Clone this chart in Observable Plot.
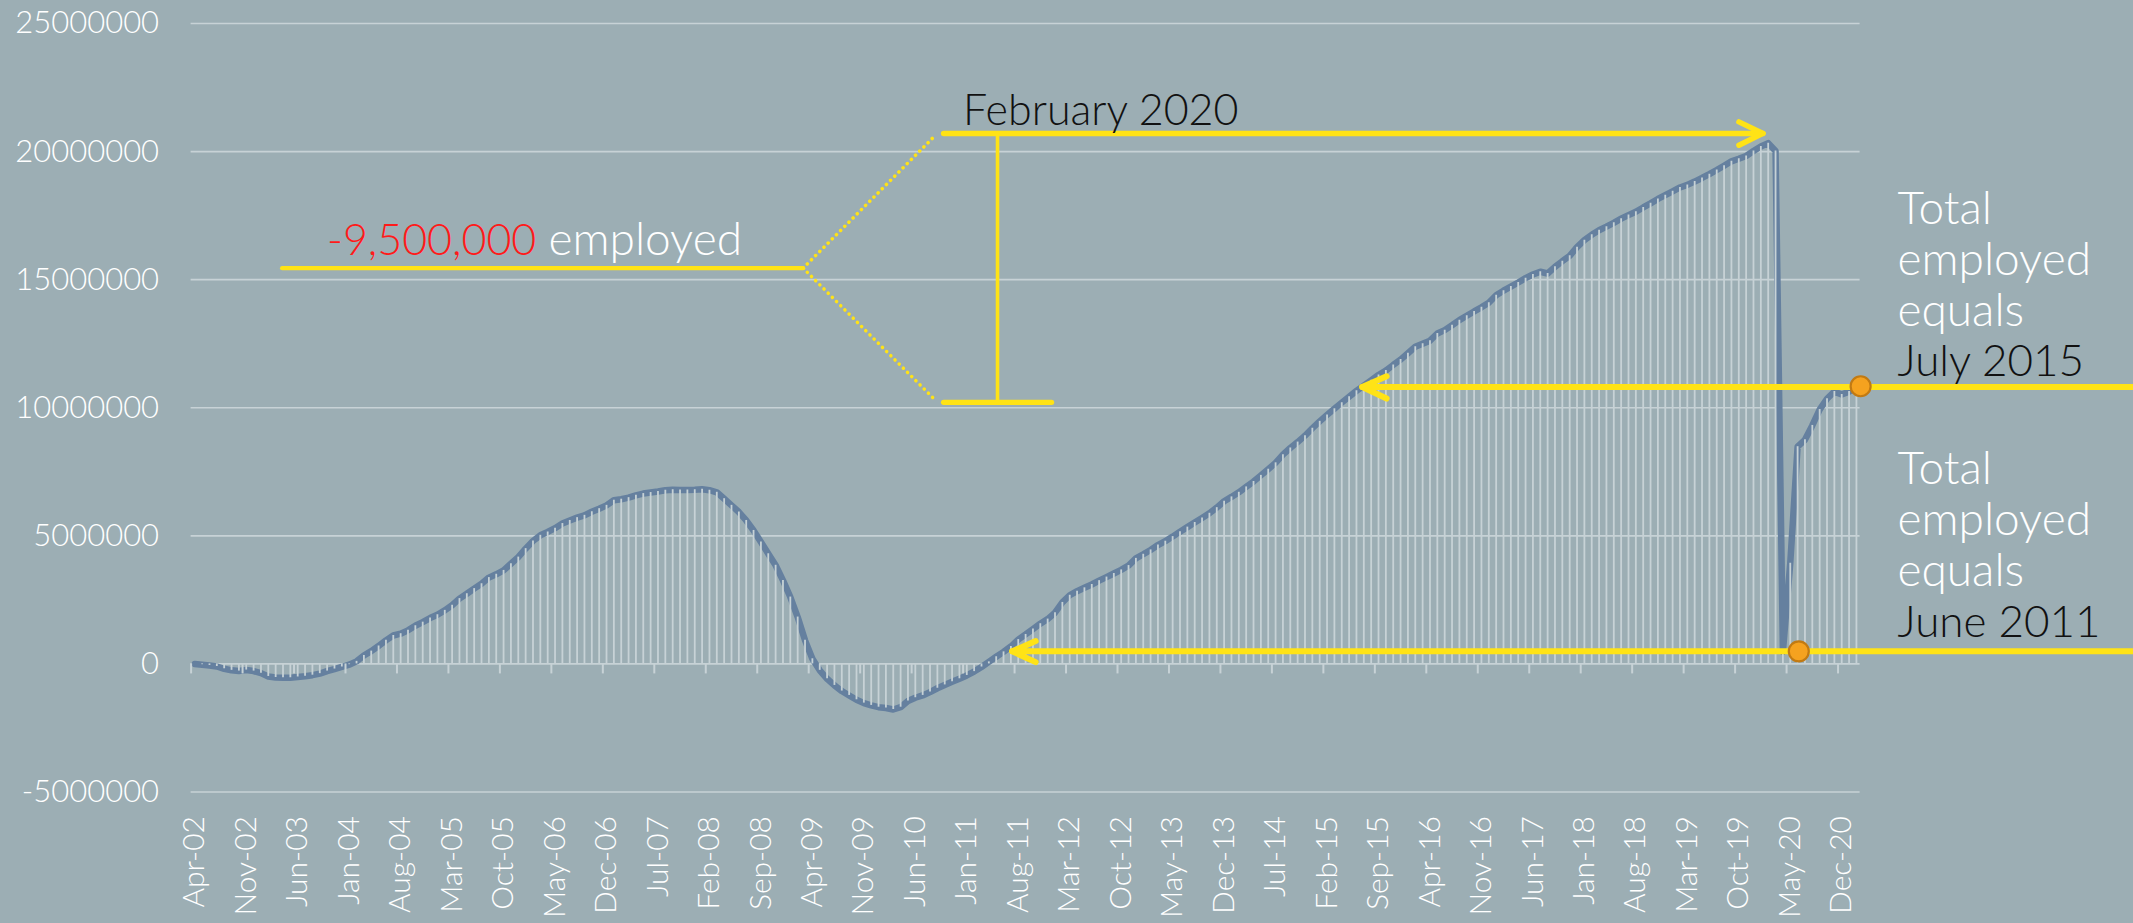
<!DOCTYPE html>
<html>
<head>
<meta charset="utf-8">
<script src="https://cdn.jsdelivr.net/npm/d3@7"></script>
<script src="https://cdn.jsdelivr.net/npm/@observablehq/plot@0.6"></script>
<style>
  html, body { margin: 0; padding: 0; background: #9caeb4; }
  #chart svg { display: block; }
</style>
</head>
<body>
<div id="chart"></div>
<script>
// Monthly categories start at Apr-02 and run to Feb-21 (227 months)
const tickLabels = ["Apr-02","Nov-02","Jun-03","Jan-04","Aug-04","Mar-05","Oct-05","May-06","Dec-06","Jul-07",
  "Feb-08","Sep-08","Apr-09","Nov-09","Jun-10","Jan-11","Aug-11","Mar-12","Oct-12","May-13","Dec-13",
  "Jul-14","Feb-15","Sep-15","Apr-16","Nov-16","Jun-17","Jan-18","Aug-18","Mar-19","Oct-19","May-20","Dec-20"];
const labelEvery = 7;

// Change in total employed since Apr-02, millions
const employedChange = [
  0.00,-0.03,-0.06,-0.10,-0.19,-0.25,-0.28,-0.24,-0.28,-0.36,
  -0.49,-0.53,-0.54,-0.54,-0.51,-0.48,-0.44,-0.38,-0.28,-0.20,
  -0.12,-0.03,0.10,0.33,0.50,0.70,0.92,1.11,1.18,1.31,
  1.49,1.63,1.79,1.92,2.09,2.29,2.55,2.74,2.94,3.13,
  3.37,3.50,3.65,3.91,4.17,4.50,4.80,5.02,5.15,5.30,
  5.48,5.60,5.71,5.80,5.94,6.06,6.19,6.39,6.43,6.49,
  6.58,6.65,6.69,6.73,6.78,6.80,6.79,6.79,6.80,6.82,
  6.78,6.70,6.45,6.19,5.93,5.60,5.21,4.76,4.30,3.85,
  3.26,2.61,1.83,0.92,0.20,-0.25,-0.58,-0.84,-1.06,-1.23,
  -1.40,-1.53,-1.62,-1.69,-1.72,-1.78,-1.69,-1.45,-1.32,-1.23,
  -1.10,-0.95,-0.82,-0.70,-0.58,-0.45,-0.30,-0.12,0.08,0.28,
  0.47,0.68,0.95,1.15,1.36,1.57,1.75,2.00,2.40,2.68,
  2.84,2.97,3.10,3.25,3.39,3.53,3.67,3.84,4.12,4.28,
  4.45,4.64,4.79,4.97,5.16,5.34,5.52,5.70,5.88,6.10,
  6.35,6.52,6.70,6.91,7.12,7.36,7.60,7.85,8.17,8.43,
  8.66,8.91,9.20,9.47,9.72,9.96,10.20,10.43,10.66,10.86,
  11.07,11.28,11.45,11.67,11.88,12.13,12.38,12.50,12.62,12.90,
  13.03,13.22,13.42,13.59,13.76,13.92,14.10,14.39,14.57,14.73,
  14.89,15.06,15.20,15.31,15.24,15.50,15.72,15.93,16.27,16.54,
  16.75,16.93,17.07,17.22,17.38,17.52,17.65,17.82,17.98,18.15,
  18.30,18.45,18.60,18.70,18.83,18.97,19.12,19.28,19.45,19.62,
  19.72,19.83,20.02,20.20,20.33,20.02,0.48,3.93,8.48,8.75,
  9.31,9.93,10.35,10.63,10.52,10.63,10.77
];

const yTicks = [-5000000, 0, 5000000, 10000000, 15000000, 20000000, 25000000];

// Annotation anchors (x in month-index units, y in persons)
const dropLineY = 15.45e6, dropTextY = 15.96e6;
const bracketTopY = 20.71e6, bracketBottomY = 10.21e6;
const june2011Y = 0.49e6, july2015Y = 10.81e6;

const data = employedChange.map((v, i) => ({x: i + 0.5, v: v * 1e6}));
const tickIdx = tickLabels.map((_, k) => k * labelEvery);
const labelPos = tickLabels.map((_, k) => k * labelEvery + 0.5);
const labelMap = new Map(labelPos.map((p, k) => [p, tickLabels[k]]));

const grid = "#c7d2d6";
const lineColor = "#65809f";
const yellow = "#ffe316";
const font = "Lato, 'Open Sans', sans-serif";

const seg = (pts) => pts.map(([x, y]) => ({x, y}));

const chart = Plot.plot({
  width: 2133,
  height: 923,
  marginLeft: 190.6,
  marginRight: 273.4,
  marginTop: 23,
  marginBottom: 131.5,
  style: {background: "transparent", fontFamily: font, overflow: "visible"},
  x: {domain: [0, employedChange.length], axis: null},
  y: {domain: [-5000000, 25000000], axis: null},
  marks: [
    Plot.ruleY(yTicks, {stroke: grid, strokeWidth: 1.7}),
    Plot.axisY(yTicks, {tickSize: 0, tickPadding: 32, tickFormat: d => String(d), fontSize: 31, fontWeight: 300, color: "#ffffff", label: null}),
    Plot.line(data, {x: "x", y: "v", stroke: lineColor, strokeWidth: 6.5, strokeLinejoin: "round", strokeLinecap: "round"}),
    Plot.ruleX(data, {x: "x", y1: 0, y2: "v", stroke: grid, strokeWidth: 1.8}),
    Plot.ruleX(tickIdx, {x: d => d, y1: 0, y2: 0, insetBottom: -10, stroke: grid, strokeWidth: 2}),
    Plot.axisX(labelPos, {anchor: "bottom", tickSize: 0, tickPadding: 24, tickRotate: -90, tickFormat: d => labelMap.get(d), fontSize: 30, fontWeight: 300, color: "#ffffff", label: null}),

    // -9,500,000 employed
    Plot.line(seg([[12.38, dropLineY], [83.24, dropLineY]]), {x: "x", y: "y", stroke: yellow, strokeWidth: 4.3}),
    Plot.line(seg([[83.24, dropLineY], [101.25, 20.64e6]]), {x: "x", y: "y", stroke: yellow, strokeWidth: 3.5, strokeDasharray: "0.1 5.8", strokeLinecap: "round"}),
    Plot.line(seg([[83.24, dropLineY], [101.25, 10.29e6]]), {x: "x", y: "y", stroke: yellow, strokeWidth: 3.5, strokeDasharray: "0.1 5.8", strokeLinecap: "round"}),
    Plot.text(["-9,500,000"], {x: 18.48, y: dropTextY, text: d => d, textAnchor: "start", lineAnchor: "bottom", fill: "#ff1a1a", fontSize: 43, fontWeight: 300}),
    Plot.text(["employed"], {x: 48.61, y: dropTextY, text: d => d, textAnchor: "start", lineAnchor: "bottom", fill: "#ffffff", fontSize: 46, fontWeight: 300}),

    // February 2020 bracket and arrow
    Plot.line(seg([[102.35, bracketTopY], [213.79, bracketTopY]]), {x: "x", y: "y", stroke: yellow, strokeWidth: 5.5}),
    Plot.line(seg([[210.52, 21.16e6], [213.79, bracketTopY], [210.52, 20.25e6]]), {x: "x", y: "y", stroke: yellow, strokeWidth: 5.5, strokeLinejoin: "round", strokeLinecap: "round"}),
    Plot.line(seg([[109.68, bracketTopY], [109.68, bracketBottomY]]), {x: "x", y: "y", stroke: yellow, strokeWidth: 3.6}),
    Plot.line(seg([[102.35, bracketBottomY], [117.03, bracketBottomY]]), {x: "x", y: "y", stroke: yellow, strokeWidth: 5.3}),
    Plot.text(["February 2020"], {x: 105.0, y: 21.04e6, text: d => d, textAnchor: "start", lineAnchor: "bottom", fill: "#111111", fontSize: 43, fontWeight: 300}),

    // July 2015 arrow
    Plot.line(seg([[159.29, july2015Y], [264.2, july2015Y]]), {x: "x", y: "y", stroke: yellow, strokeWidth: 6}),
    Plot.line(seg([[162.6, 11.23e6], [159.29, july2015Y], [162.6, 10.36e6]]), {x: "x", y: "y", stroke: yellow, strokeWidth: 6, strokeLinejoin: "round", strokeLinecap: "round"}),
    // June 2011 arrow
    Plot.line(seg([[111.68, june2011Y], [264.2, june2011Y]]), {x: "x", y: "y", stroke: yellow, strokeWidth: 6}),
    Plot.line(seg([[114.87, 0.89e6], [111.68, june2011Y], [114.87, 0.07e6]]), {x: "x", y: "y", stroke: yellow, strokeWidth: 6, strokeLinejoin: "round", strokeLinecap: "round"}),

    Plot.dot(seg([[227.07, 10.84e6], [218.66, june2011Y]]), {x: "x", y: "y", r: 10, fill: "#f5a21f", stroke: "#c27a12", strokeWidth: 2.2}),

    Plot.text(["Total\nemployed\nequals"], {x: 232.09, y: 13.19e6, text: d => d, textAnchor: "start", lineAnchor: "bottom", lineHeight: 1.11, fill: "#ffffff", fontSize: 46, fontWeight: 300}),
    Plot.text(["July 2015"], {x: 232.09, y: 11.23e6, text: d => d, textAnchor: "start", lineAnchor: "bottom", fill: "#111111", fontSize: 44, fontWeight: 300}),
    Plot.text(["Total\nemployed\nequals"], {x: 232.09, y: 3.05e6, text: d => d, textAnchor: "start", lineAnchor: "bottom", lineHeight: 1.11, fill: "#ffffff", fontSize: 46, fontWeight: 300}),
    Plot.text(["June 2011"], {x: 232.09, y: 1.05e6, text: d => d, textAnchor: "start", lineAnchor: "bottom", fill: "#111111", fontSize: 44, fontWeight: 300})
  ]
});
document.getElementById("chart").appendChild(chart);
</script>
</body>
</html>
